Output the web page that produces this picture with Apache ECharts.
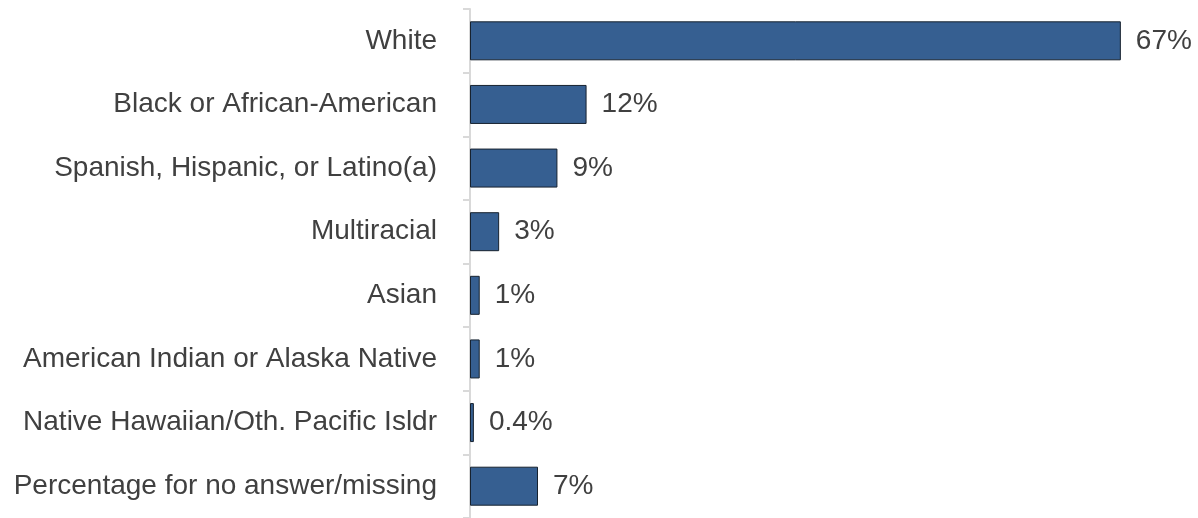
<!DOCTYPE html>
<html>
<head>
<meta charset="utf-8">
<style>
  html, body { margin: 0; padding: 0; background: #ffffff; }
  #chart { width: 1198px; height: 518px; }
</style>
<script src="https://cdn.jsdelivr.net/npm/echarts@6/dist/echarts.min.js"></script>
</head>
<body>
<div id="chart"></div>
<script>
// Respondent race / ethnicity breakdown (percent of respondents)
const categories = [
  'White',
  'Black or African-American',
  'Spanish, Hispanic, or Latino(a)',
  'Multiracial',
  'Asian',
  'American Indian or Alaska Native',
  'Native Hawaiian/Oth. Pacific Isldr',
  'Percentage for no answer/missing'
];
const shares = [67, 12, 9, 3, 1, 1, 0.4, 7];

const chart = echarts.init(document.getElementById('chart'), null, { renderer: 'canvas' });
const font = '"Liberation Sans", Arial, sans-serif';

chart.setOption({
  animation: false,
  backgroundColor: '#ffffff',
  grid: { left: 470, right: 48, top: 9, bottom: -3, containLabel: false },
  xAxis: {
    type: 'value',
    min: 0,
    max: 70,
    show: false
  },
  yAxis: {
    type: 'category',
    data: categories,
    inverse: true,
    axisLine: { show: true, lineStyle: { color: '#d9d9d9', width: 2 } },
    axisTick: { show: true, length: 7, lineStyle: { color: '#d9d9d9', width: 2 } },
    axisLabel: {
      margin: 33,
      color: '#404040',
      fontSize: 28,
      fontFamily: font
    },
    splitLine: { show: false }
  },
  series: [{
    type: 'bar',
    data: shares,
    barWidth: 39,
    itemStyle: {
      color: '#365f91',
      borderColor: '#17222f',
      borderWidth: 1
    },
    label: {
      show: true,
      position: 'right',
      distance: 15,
      color: '#404040',
      fontSize: 28,
      fontFamily: font,
      formatter: p => p.value + '%'
    }
  }]
});
</script>
</body>
</html>
